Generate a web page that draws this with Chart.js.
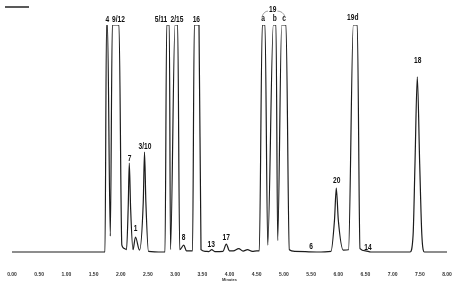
<!DOCTYPE html>
<html>
<head>
<meta charset="utf-8">
<script src="https://cdn.jsdelivr.net/npm/chart.js@4"></script>
<style>
  html, body { margin: 0; padding: 0; background: #fff; }
  canvas { display: block; }
</style>
</head>
<body>
<canvas id="chromatogram" width="457" height="282"></canvas>
<script>
// retention time (min) and detector signal (% of full scale, clipped at 100)
const times = [0.00, 1.68, 1.710, 1.738, 1.756, 1.808, 1.845, 1.968, 2.02, 2.07,
    2.106, 2.137, 2.157, 2.181, 2.225, 2.271, 2.345, 2.414, 2.437, 2.462,
    2.51, 2.78, 2.814, 2.845, 2.893, 2.915, 2.998, 3.047, 3.084, 3.158,
    3.209, 3.32, 3.353, 3.439, 3.476, 3.55, 3.62, 3.673, 3.73, 3.88,
    3.941, 4.00, 4.07, 4.17, 4.25, 4.33, 4.42, 4.50, 4.548, 4.603,
    4.653, 4.703, 4.806, 4.855, 4.886, 4.960, 5.039, 5.10, 5.20, 5.60,
    5.867, 5.931, 5.964, 6.001, 6.093, 6.189, 6.277, 6.350, 6.400, 6.50,
    6.60, 7.00, 7.32, 7.377, 7.411, 7.454, 7.498, 7.537, 7.585, 7.70, 8.00];
const signal = [0, 0, 0, 100, 100, 7, 100, 100, 3, 1.5,
    1, 19.6, 39.2, 19.6, 1, 6.6, 0.8, 22, 44, 22,
    0.3, 0, 0, 100, 100, 1, 100, 100, 1, 3,
    0.5, 0.5, 100, 100, 1, 0.3, 0.2, 1, 0.2, 0.3,
    3.5, 0.5, 0.5, 1.5, 0.4, 1, 0.3, 0.5, 0.5, 100,
    100, 3, 100, 100, 5, 100, 100, 1, 0.3, 0,
    0.3, 14.1, 28.2, 14.1, 0.8, 1, 100, 100, 1.5, 0.5,
    0, 0, 0, 7.7, 38.6, 77.2, 38.6, 7.7, 0, 0, 0];

// peak labels: text, time, signal level of the label's bottom edge
const peakNames = ['4', '9/12', '7', '1', '3/10', '5/11', '2/15', '16', '8', '13', '17',
    'a', 'b', 'c', '19', '6', '20', '19d', '14', '18'];
const peakTimes = [1.753, 1.959, 2.161, 2.271, 2.446, 2.740, 3.034, 3.390, 3.158, 3.665, 3.941,
    4.616, 4.831, 5.002, 4.795, 5.499, 5.973, 6.266, 6.547, 7.463];
const peakLevels = [100.7, 100.7, 39.3, 8.2, 44.6, 100.7, 100.7, 100.7, 4.4, 1.2, 4.5,
    101, 101, 101, 104.8, 0.6, 29.5, 101.2, 0.1, 82.4];

const tickValues = [0, 0.5, 1, 1.5, 2, 2.5, 3, 3.5, 4, 4.5, 5, 5.5, 6, 6.5, 7, 7.5, 8];

const peakLabels = {
    id: 'peakLabels',
    afterDatasetsDraw(chart) {
        const ctx = chart.ctx;
        const xs = chart.scales.x, ys = chart.scales.y;
        const area = chart.chartArea;
        ctx.save();
        // scale bar in the corner
        ctx.strokeStyle = '#222';
        ctx.lineWidth = 1.5;
        ctx.beginPath();
        ctx.moveTo(area.left - 7, area.top - 18);
        ctx.lineTo(area.left + 17, area.top - 18);
        ctx.stroke();

        ctx.fillStyle = '#111';
        ctx.font = 'bold 8.5px "Liberation Sans", Arial, sans-serif';
        ctx.textAlign = 'center';
        ctx.textBaseline = 'bottom';
        const squeeze = 0.78;
        const pos = {};
        peakNames.forEach((name, i) => {
            const px = xs.getPixelForValue(peakTimes[i]);
            const py = ys.getPixelForValue(peakLevels[i]);
            ctx.save();
            ctx.translate(px, py);
            ctx.scale(squeeze, 1);
            ctx.fillText(name, 0, 0);
            ctx.restore();
            pos[name] = { x: px, y: py, w: ctx.measureText(name).width * squeeze };
        });
        // bracket joining 19 to a and c
        ctx.strokeStyle = '#777';
        ctx.lineWidth = 0.7;
        ctx.beginPath();
        ctx.moveTo(pos.a.x - 1, pos.a.y - 6);
        ctx.quadraticCurveTo(pos.a.x + 1, pos['19'].y - 3, pos['19'].x - pos['19'].w / 2 - 1, pos['19'].y - 3);
        ctx.moveTo(pos['19'].x + pos['19'].w / 2 + 1, pos['19'].y - 3);
        ctx.quadraticCurveTo(pos.c.x - 1, pos['19'].y - 3, pos.c.x + 1, pos.c.y - 6);
        ctx.stroke();
        ctx.restore();
    }
};

new Chart(document.querySelector('#chromatogram').getContext('2d'), {
    type: 'line',
    data: {
        datasets: [{
            data: times.map((t, i) => ({ x: t, y: signal[i] })),
            borderColor: '#1c1c1c',
            borderWidth: 1.2,
            pointRadius: 0,
            fill: false,
            cubicInterpolationMode: 'monotone'
        }]
    },
    options: {
        responsive: false,
        animation: false,
        layout: { padding: { left: 12, right: 10, top: 25, bottom: 0 } },
        plugins: { legend: { display: false }, tooltip: { enabled: false } },
        scales: {
            x: {
                type: 'linear',
                min: 0,
                max: 8,
                afterBuildTicks: scale => { scale.ticks = tickValues.map(v => ({ value: v })); },
                afterFit: scale => {
                    scale.height = 23.2;
                    scale.paddingLeft = 0;
                    scale.paddingRight = 0;
                },
                grid: { display: false, drawTicks: false },
                border: { display: false },
                ticks: {
                    padding: 13,
                    maxRotation: 0,
                    autoSkip: false,
                    color: '#333',
                    font: { family: '"Liberation Sans", Arial, sans-serif', size: 5, weight: 'bold' },
                    callback: v => Number(v).toFixed(2)
                },
                title: {
                    display: true,
                    text: 'Minutes',
                    color: '#333',
                    padding: 0,
                    font: { family: '"Liberation Sans", Arial, sans-serif', size: 4, weight: 'bold' }
                }
            },
            y: {
                display: false,
                min: -3,
                max: 100
            }
        }
    },
    plugins: [peakLabels]
});
</script>
</body>
</html>
